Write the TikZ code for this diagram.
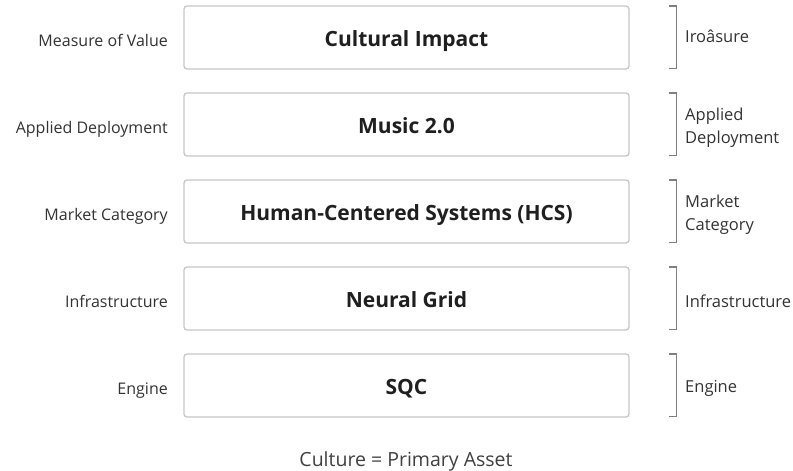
\documentclass[tikz,border=0pt]{standalone}
\usepackage{fontspec}
\setmainfont{Open Sans}
\begin{document}
\begin{tikzpicture}[x=1pt,y=-1pt,
  layerbox/.style={draw=black!22, line width=1.3pt, rounded corners=3pt,
    minimum width=445pt, minimum height=63pt, inner sep=0pt,
    text height=17.5pt, text depth=0pt,
    font=\fontsize{21}{24}\selectfont\bfseries, text=black!88},
  leftlabel/.style={anchor=base east, inner sep=0pt, font=\fontsize{16}{19}\selectfont, text=black!80},
  rightlabel/.style={anchor=west, inner sep=0pt, align=left, font=\fontsize{16.5}{23}\selectfont, text=black!80},
  bracket/.style={draw=black!50, line width=1.6pt},
  footer/.style={anchor=base, inner sep=0pt, font=\fontsize{19.5}{22}\selectfont, text=black!75}]
\fill[white] (0,0) rectangle (793,471);
\useasboundingbox (0,0) rectangle (793,471);

% stacked layers, top to bottom
\node[layerbox] (b1) at (406.5,37.5)  {Cultural Impact};
\node[layerbox] (b2) at (406.5,124.5) {Music 2.0};
\node[layerbox] (b3) at (406.5,211.5) {Human-Centered Systems (HCS)};
\node[layerbox] (b4) at (406.5,298.5) {Neural Grid};
\node[layerbox] (b5) at (406.5,385.5) {SQC};

% role of each layer, left side
\node[leftlabel] (l1) at (168,46)  {Measure of Value};
\node[leftlabel] (l2) at (168,133) {Applied Deployment};
\node[leftlabel] (l3) at (168,220) {Market Category};
\node[leftlabel] (l4) at (168,307) {Infrastructure};
\node[leftlabel] (l5) at (168,394) {Engine};

% brackets and labels, right side
\foreach \i in {1,...,5}{
  \draw[bracket] ([xshift=39pt,yshift=-0.5pt]b\i.north east) -- ++(8,0)
     -- ([xshift=47pt,yshift=1pt]b\i.south east)
     -- ++(-8,0);
}
\node[rightlabel] (r1) at (685,36)  {Iroâsure};
\node[rightlabel] (r2) at (685,128) {Applied\\Deployment};
\node[rightlabel] (r3) at (685,215) {Market\\Category};
\node[rightlabel] (r4) at (685,301) {Infrastructure};
\node[rightlabel] (r5) at (685,388) {Engine};

\node[footer] (f) at (406,466) {Culture = Primary Asset};
\end{tikzpicture}
\end{document}
